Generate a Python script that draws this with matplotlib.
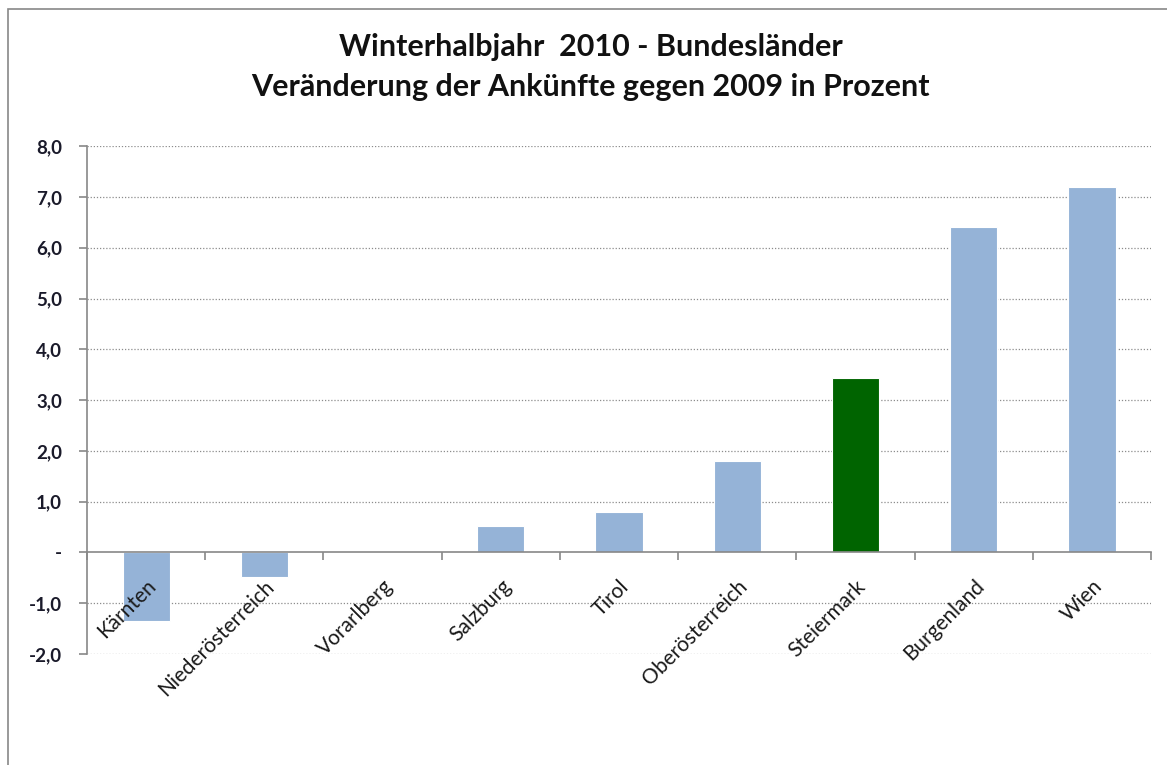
import matplotlib.pyplot as plt
from matplotlib.patches import Rectangle
from matplotlib.ticker import FuncFormatter

plt.rcParams['font.family'] = ['Lato', 'DejaVu Sans']

laender = ["Kärnten", "Niederösterreich", "Vorarlberg", "Salzburg", "Tirol",
           "Oberösterreich", "Steiermark", "Burgenland", "Wien"]
werte = [-1.34, -0.48, 0.0, 0.53, 0.80, 1.81, 3.43, 6.40, 7.19]
farben = ["#95b3d7"] * 6 + ["#006400"] + ["#95b3d7"] * 2

fig = plt.figure(figsize=(11.67, 7.65), dpi=100)
ax = fig.add_axes([0.0746, 0.145, 0.9117, 0.664])

for s in ["top", "right"]:
    ax.spines[s].set_visible(False)
ax.spines["left"].set_color("#888888")
ax.spines["left"].set_linewidth(1.2)
ax.spines["bottom"].set_position(("data", 0))
ax.spines["bottom"].set_color("#888888")
ax.spines["bottom"].set_linewidth(1.2)

x = list(range(len(laender)))
# bars below the axis artists (zorder 1.5) so the labels sit on top of them
ax.bar(x, werte, width=0.4, color=farben, edgecolor="white", linewidth=0.8, zorder=1.2)

ax.set_xlim(-0.5, len(laender) - 0.5)
ax.set_ylim(-2, 8)
ax.set_yticks(range(-2, 9))
ax.yaxis.set_major_formatter(FuncFormatter(
    lambda v, p: "-" if v == 0 else f"{v:.1f}".replace(".", ",")))
for v in range(-2, 9):
    if v != 0:
        ax.axhline(v, linestyle=(0, (1, 1.5)), color="#8c8c8c", linewidth=0.9, zorder=1)

ax.tick_params(axis="y", labelsize=13.5, colors="#888888", labelcolor="#1a1a2a",
               length=6, width=1.2, pad=12)
for lab in ax.get_yticklabels():
    lab.set_fontweight("bold")

# labels at centers (no tick mark), tick marks at category boundaries
ax.set_xticks(x)
ax.set_xticklabels(laender, rotation=45, ha="right", va="top",
                   rotation_mode="anchor", fontsize=15, color="#1a1a1a")
ax.tick_params(axis="x", which="major", length=0, pad=17)
ax.set_xticks([i + 0.5 for i in range(-1, len(laender))], minor=True)
ax.tick_params(axis="x", which="minor", length=6, width=1.2, colors="#888888")

fig.text(0.506, 0.939, "Winterhalbjahr  2010 - Bundesländer", ha="center", va="center",
         fontsize=22, fontweight="bold", color="#111111")
fig.text(0.506, 0.886, "Veränderung der Ankünfte gegen 2009 in Prozent", ha="center",
         va="center", fontsize=22, fontweight="bold", color="#111111")

fig.patches.append(Rectangle((8 / 1167, -0.1), 1.2, 1.1 - 9 / 765, transform=fig.transFigure,
                             fill=False, edgecolor="#888888", linewidth=1.2))

fig.savefig("out.png", dpi=100)
